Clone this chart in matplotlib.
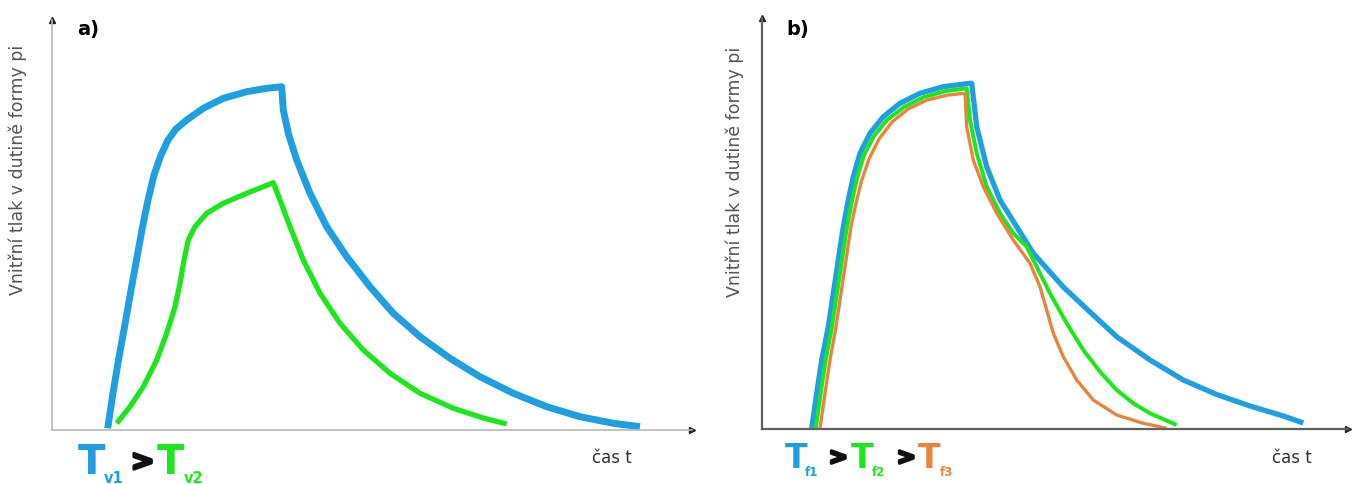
import matplotlib
matplotlib.use("Agg")
import matplotlib.pyplot as plt
import matplotlib.patheffects as pe

# panel a) - melt temperature (T_v1 > T_v2), pressure
a_t_v1 = [5.57, 6.1, 6.65, 7.25, 7.85, 8.45, 9.05, 9.6, 10.2, 10.9, 11.6, 12.4,
          13.47, 15.13, 17.13, 19.47, 21.47, 22.97,
          23.13, 23.63, 24.47, 25.8, 27.47, 29.47, 31.8, 34.13, 36.8, 39.8,
          42.8, 46.13, 49.47, 52.8, 56.13, 58.8]
a_p_v1 = [0.17, 3.7, 7.0, 10.3, 13.7, 17.0, 20.3, 23.0, 25.5, 27.5, 29.0, 30.1,
          31.0, 32.17, 33.17, 33.83, 34.17, 34.33,
          32.0, 29.67, 27.0, 23.67, 20.33, 17.33, 14.33, 11.67, 9.33, 7.17,
          5.33, 3.67, 2.33, 1.33, 0.67, 0.33]
a_t_v2 = [6.47, 7.8, 9.13, 10.47, 11.47, 12.3, 12.8, 13.2, 13.63, 14.3, 15.47, 17.13,
          19.47, 22.13,
          22.8, 23.8, 25.13, 26.8, 28.8, 31.13, 33.8, 36.8, 40.13, 43.13, 45.47]
a_p_v2 = [0.67, 2.33, 4.33, 7.0, 9.67, 12.33, 14.67, 17.0, 19.0, 20.33, 21.67, 22.67,
          23.67, 24.73,
          23.0, 20.33, 17.0, 13.67, 10.67, 8.0, 5.67, 3.67, 2.17, 1.2, 0.6]

# panel b) - mould temperature (T_f1 > T_f2 > T_f3)
b_t_f1 = [4.97, 5.47, 5.97, 6.63, 7.13, 7.63, 8.13, 8.63, 9.13, 9.8, 10.8, 12.13,
          13.8, 15.8, 18.13, 20.8,
          20.97, 21.47, 22.47, 23.8, 25.47, 27.13, 30.13, 32.8, 35.47, 38.8,
          42.13, 45.47, 48.8, 52.13, 54.13]
b_p_f1 = [0.07, 3.57, 6.9, 10.23, 13.57, 16.9, 20.23, 22.9, 25.23, 27.57, 29.57, 31.23,
          32.57, 33.57, 34.23, 34.57,
          34.57, 30.23, 26.23, 22.9, 20.23, 17.57, 14.2, 11.7, 9.23, 6.9,
          4.9, 3.45, 2.3, 1.3, 0.6]
b_t_f2 = [5.37, 5.87, 6.37, 7.0, 7.5, 8.0, 8.5, 9.0, 9.5, 10.2, 11.2, 12.5,
          14.2, 16.2, 18.4, 20.47,
          20.8, 21.47, 22.47, 23.8, 25.13, 26.47, 27.63, 28.8, 30.47, 32.13,
          33.8, 35.47, 37.13, 38.8, 41.47]
b_p_f2 = [0.07, 3.57, 6.9, 10.23, 13.57, 16.9, 20.23, 22.8, 25.1, 27.4, 29.3, 30.9,
          32.2, 33.2, 33.8, 34.07,
          30.9, 27.57, 24.23, 21.57, 19.57, 18.23, 15.9, 13.57, 10.57, 7.9,
          5.73, 3.9, 2.57, 1.57, 0.4]
b_t_f3 = [5.8, 6.3, 6.8, 7.4, 7.9, 8.4, 8.9, 9.4, 9.95, 10.7, 11.7, 13.0,
          14.6, 16.5, 18.6, 20.3,
          20.47, 21.13, 22.13, 23.47, 25.13, 26.8, 27.8, 28.47, 29.13, 30.13,
          31.47, 33.13, 35.47, 38.13, 40.47]
b_p_f3 = [0.07, 3.57, 6.9, 10.23, 13.57, 16.9, 20.23, 22.6, 24.8, 27.0, 29.0, 30.7,
          32.0, 32.9, 33.4, 33.57,
          30.23, 26.9, 24.23, 21.57, 18.9, 16.57, 14.23, 11.9, 9.57, 7.23,
          4.9, 2.9, 1.4, 0.57, 0.07]

y_label = "Vnitřní tlak v dutině formy pi"
x_label = "čas t"

BLUE = "#1f9fe0"
GREEN = "#1ee61e"
ORANGE = "#e8843e"

W, H = 1355, 484
fig = plt.figure(figsize=(W / 100, H / 100), dpi=100)


def px_axes(left, top, right, bottom):
    return fig.add_axes([left / W, 1 - bottom / H, (right - left) / W, (bottom - top) / H])


def setup_axes(ax, xmax, ymax, color, lw):
    ax.set_xlim(0, xmax)
    ax.set_ylim(0, ymax)
    for s in ["top", "right"]:
        ax.spines[s].set_visible(False)
    for s in ["left", "bottom"]:
        ax.spines[s].set_color(color)
        ax.spines[s].set_linewidth(lw)
    ax.set_xticks([])
    ax.set_yticks([])
    ax.patch.set_alpha(0)
    ax.plot([1], [0], marker=">", color="#222222", markersize=5,
            transform=ax.transAxes, clip_on=False)
    ax.plot([0], [1], marker="^", color="#222222", markersize=5,
            transform=ax.transAxes, clip_on=False)


def ftext(x, y, s, **kw):
    return fig.text(x / W, 1 - y / H, s, **kw)


def gt(x, y, size):
    # heavy ">" sign between the temperatures
    t = ftext(x, y, ">", fontsize=size, fontweight="bold", color="#111111",
              ha="left", va="baseline")
    t.set_path_effects([pe.withStroke(linewidth=2.2, foreground="#111111")])


line_kw = dict(solid_joinstyle="round", solid_capstyle="butt")

# ---- panel a
ax1 = px_axes(52, 20, 692, 430)
setup_axes(ax1, 64.0, 41.0, "#b8b8b8", 1.2)
ax1.plot(a_t_v1, a_p_v1, color=BLUE, lw=5.0, **line_kw)
ax1.plot(a_t_v2, a_p_v2, color=GREEN, lw=3.8, **line_kw)

ftext(18, 170, y_label, rotation=90, ha="center", va="center", fontsize=12.5, color="#555555")
ftext(77, 30, "a)", fontsize=14, fontweight="bold", ha="left", va="center")
ftext(612, 458, x_label, fontsize=12, color="#333333", ha="center", va="center")

ftext(78, 474, "T", fontsize=29, fontweight="bold", color=BLUE, ha="left", va="baseline")
ftext(104, 483, "v1", fontsize=10.5, fontweight="bold", color=BLUE, ha="left", va="baseline")
gt(131, 470, 20)
ftext(157, 474, "T", fontsize=29, fontweight="bold", color=GREEN, ha="left", va="baseline")
ftext(184, 483, "v2", fontsize=10.5, fontweight="bold", color=GREEN, ha="left", va="baseline")

# ---- panel b
ax2 = px_axes(762, 18, 1348, 429)
setup_axes(ax2, 58.6, 41.1, "#606060", 1.6)
ax2.plot(b_t_f1, b_p_f1, color=BLUE, lw=3.8, **line_kw)
ax2.plot(b_t_f2, b_p_f2, color=GREEN, lw=2.9, **line_kw)
ax2.plot(b_t_f3, b_p_f3, color=ORANGE, lw=2.4, **line_kw)

ftext(735, 172, y_label, rotation=90, ha="center", va="center", fontsize=12.5, color="#555555")
ftext(786, 30, "b)", fontsize=14, fontweight="bold", ha="left", va="center")
ftext(1292, 458, x_label, fontsize=12, color="#333333", ha="center", va="center")

ftext(785, 468, "T", fontsize=24, fontweight="bold", color=BLUE, ha="left", va="baseline")
ftext(805, 476, "f1", fontsize=8.5, fontweight="bold", color=BLUE, ha="left", va="baseline")
gt(829, 464, 16)
ftext(851, 468, "T", fontsize=24, fontweight="bold", color=GREEN, ha="left", va="baseline")
ftext(872, 476, "f2", fontsize=8.5, fontweight="bold", color=GREEN, ha="left", va="baseline")
gt(897, 464, 16)
ftext(918, 468, "T", fontsize=24, fontweight="bold", color=ORANGE, ha="left", va="baseline")
ftext(940, 476, "f3", fontsize=8.5, fontweight="bold", color=ORANGE, ha="left", va="baseline")

fig.savefig("out.png", dpi=100)
